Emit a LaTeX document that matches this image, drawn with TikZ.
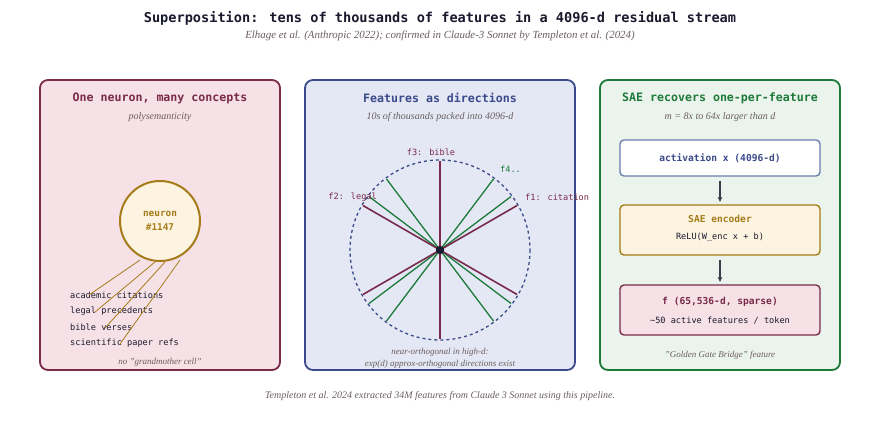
\documentclass[tikz,border=0pt]{standalone}
\usepackage{fontspec}
\setmainfont{Liberation Serif}
\newfontfamily\monof{DejaVu Sans Mono}
\usetikzlibrary{arrows.meta}
\definecolor{ink}{HTML}{1A1A2E}
\definecolor{note}{HTML}{6B5E5E}
\definecolor{mar}{HTML}{7A2A4A}
\definecolor{marfill}{HTML}{F5E1E6}
\definecolor{blu}{HTML}{3A4A8A}
\definecolor{blufill}{HTML}{E3E8F4}
\definecolor{grn}{HTML}{1E7A3A}
\definecolor{grnfill}{HTML}{EBF4EC}
\definecolor{gold}{HTML}{A67C1A}
\definecolor{cream}{HTML}{FDF3E1}
\definecolor{boxblue}{HTML}{6E7CAE}
\tikzset{
  panel/.style={draw=#1, line width=1.8pt, rounded corners=8pt},
  ptitle/.style={font=\monof\bfseries\fontsize{11.6}{13}\selectfont, text=#1},
  pnote/.style={font=\itshape\fontsize{10}{11}\selectfont, text=note},
  snote/.style={font=\itshape\fontsize{9}{10}\selectfont, text=note},
  mono/.style={font=\monof\fontsize{8.6}{10}\selectfont, text=ink},
  flow/.style={draw=ink!85, line width=1.8pt, -{Latex[length=5pt,width=5pt]}},
  sbox/.style={draw=#1, line width=1.4pt, rounded corners=4pt, minimum width=200pt},
}
\begin{document}
\begin{tikzpicture}[x=1pt,y=-1pt]
\useasboundingbox[fill=white] (0,0) rectangle (880,420);
% header
\node[font=\monof\bfseries\fontsize{13.6}{15}\selectfont, text=ink] (title) at (440,18) {Superposition: tens of thousands of features in a 4096-d residual stream};
\node[pnote, font=\itshape\fontsize{10.9}{12}\selectfont] (sub) at (440,36) {Elhage et al. (Anthropic 2022); confirmed in Claude-3 Sonnet by Templeton et al. (2024)};
% panels
\draw[panel=mar, fill=marfill] (40,80) rectangle (280,370);
\draw[panel=blu, fill=blufill] (305,80) rectangle (575,370);
\draw[panel=grn, fill=grnfill] (600,80) rectangle (840,370);
% left panel
\node[ptitle=mar] (lt) at (160,98) {One neuron, many concepts};
\node[pnote] (ls) at (160,117) {polysemanticity};
\node[circle, draw=gold, line width=2pt, fill=cream, minimum size=80pt, inner sep=0pt,
      align=center, font=\monof\bfseries\fontsize{9.4}{14.5}\selectfont, text=gold] (neuron) at (160,221) {neuron\\\#1147};
\node[mono, anchor=west, inner sep=0pt] (c1) at (70,295) {academic citations};
\node[mono, anchor=west, inner sep=0pt] (c2) at (70,311) {legal precedents};
\node[mono, anchor=west, inner sep=0pt] (c3) at (70,327) {bible verses};
\node[mono, anchor=west, inner sep=0pt] (c4) at (70,343) {scientific paper refs};
\coordinate (e1) at (89,295);
\coordinate (e2) at (95,312);
\coordinate (e3) at (105,328);
\coordinate (e4) at (120,344);
\draw[gold, line width=0.8pt] (140,260) -- (e1);
\draw[gold, line width=0.8pt] (155,262) -- (e2);
\draw[gold, line width=0.8pt] (165,262) -- (e3);
\draw[gold, line width=0.8pt] (180,260) -- (e4);
\node[snote] (ln) at (160,362) {no "grandmother cell"};
% middle panel
\node[ptitle=blu] (mt) at (440,98) {Features as directions};
\node[pnote] (ms) at (440,117) {10s of thousands packed into 4096-d};
\coordinate (c) at (440,250);
\draw[blu, line width=1.3pt, dash pattern=on 3pt off 3pt] (c) circle[radius=90];
\foreach \a in {37,53,127,143}{
  \draw[grn, line width=1.3pt] (c) ++(\a:-89) -- ++(\a:178);
}
\foreach \a in {90,30,150}{
  \draw[mar, line width=1.6pt] (c) ++(\a:-89) -- ++(\a:178);
}
\fill[ink] (c) circle[radius=4.2];
\node[mono, text=mar] (f3) at (431,152) {f3: bible};
\node[mono, text=grn, anchor=west, inner sep=0pt] (f4) at (500,169) {f4..};
\node[mono, text=mar, anchor=west, inner sep=0pt] (f1) at (525,197) {f1: citation};
\node[mono, text=mar, anchor=east, inner sep=0pt] (f2) at (377,197) {f2: legal};
\node[snote] (mn1) at (440,352) {near-orthogonal in high-d:};
\node[snote] (mn2) at (440,364) {exp(d) approx-orthogonal directions exist};
% right panel
\node[ptitle=grn] (rt) at (720,98) {SAE recovers one-per-feature};
\node[pnote] (rs) at (720,117) {m = 8x to 64x larger than d};
\node[sbox=boxblue, fill=white, minimum height=36pt] (b1) at (720,158) {};
\node[font=\monof\bfseries\fontsize{9.6}{11}\selectfont, text=blu] (b1t) at (720,158) {activation x (4096-d)};
\node[sbox=gold, fill=cream, minimum height=50pt] (b2) at (720,230) {};
\node[font=\monof\bfseries\fontsize{9.6}{11}\selectfont, text=gold] (b2t) at (720,219) {SAE encoder};
\node[mono] (b2s) at (720,237) {ReLU(W\_enc x + b)};
\node[sbox=mar, fill=marfill, minimum height=50pt] (b3) at (720,310) {};
\node[font=\monof\bfseries\fontsize{9.6}{11}\selectfont, text=mar] (b3t) at (720,302) {f (65,536-d, sparse)};
\node[mono] (b3s) at (720,321) {\textasciitilde50 active features / token};
\draw[flow] ([yshift=-4pt]b1.south) -- ([yshift=2pt]b2.north);
\draw[flow] ([yshift=-4pt]b2.south) -- ([yshift=2pt]b3.north);
\node[snote] (rn) at (720,355) {"Golden Gate Bridge" feature};
% footer
\node[pnote] (foot) at (440,396) {Templeton et al. 2024 extracted 34M features from Claude 3 Sonnet using this pipeline.};
\end{tikzpicture}
\end{document}
